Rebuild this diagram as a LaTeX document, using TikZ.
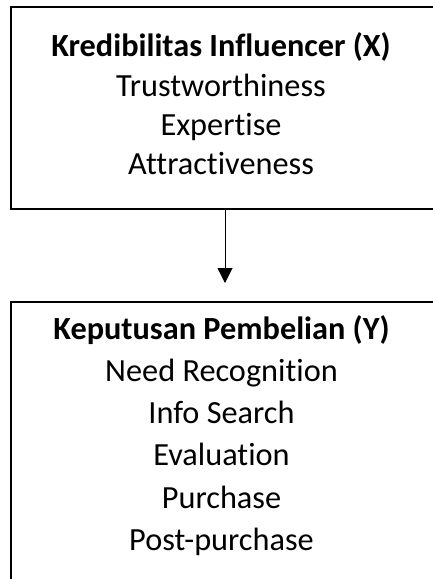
\documentclass[tikz,border=0pt]{standalone}
\usepackage{fontspec}
\setmainfont{Carlito}[Ligatures=NoCommon]
\usetikzlibrary{arrows.meta}

\begin{document}
\begin{tikzpicture}[x=1pt, y=1pt,
		kotak/.style={draw=black, line width=1.8pt, minimum width=424pt, inner sep=0pt},
		daftar/.style={align=center, inner sep=0pt}]
		\useasboundingbox (0,0) rectangle (432,-579);
		% variabel X
		\node[kotak, minimum height=202pt] (kotakx) at (223,-108) {};
		\node[daftar, font=\fontsize{32.3}{39.3}\selectfont] (teksx) at (221,-104) {\textbf{Kredibilitas Influencer (X)}\\Trustworthiness\\Expertise\\Attractiveness};
		% variabel Y
		\node[kotak, minimum height=300pt, anchor=north] (kotaky) at (223,-301) {};
		\node[daftar, font=\fontsize{32.3}{42.2}\selectfont] (teksy) at (221.5,-435.5) {\textbf{Keputusan Pembelian (Y)}\\Need Recognition\\Info Search\\Evaluation\\Purchase\\Post-purchase};
		\draw[color=black, line width=1pt, -{Triangle[width=15pt,length=15pt]}, shorten >=18pt] ([xshift=2pt]kotakx.south) -- ([xshift=2pt]kotaky.north);
	\end{tikzpicture}
\end{document}
